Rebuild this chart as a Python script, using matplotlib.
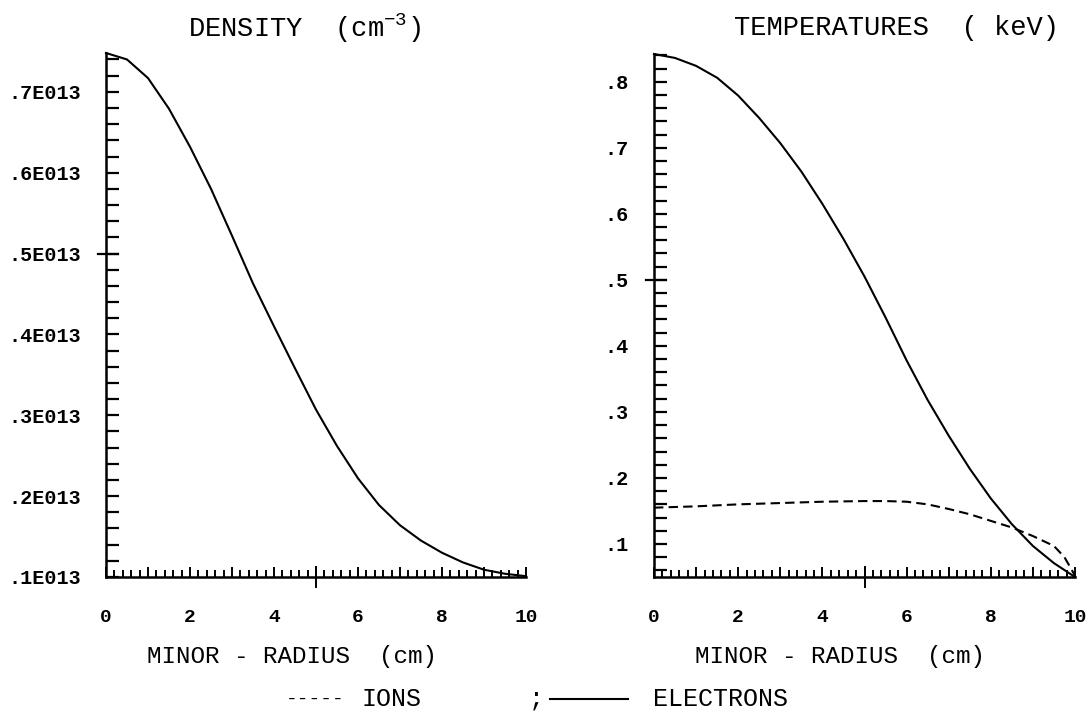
import numpy as np
import matplotlib
matplotlib.use('Agg')
import matplotlib.pyplot as plt
from matplotlib.ticker import MultipleLocator, FuncFormatter
from matplotlib.lines import Line2D

plt.rcParams['font.family'] = ['Liberation Mono', 'DejaVu Sans Mono']
plt.rcParams['mathtext.fontset'] = 'custom'
plt.rcParams['mathtext.rm'] = 'Liberation Mono'
plt.rcParams['mathtext.it'] = 'Liberation Mono'

# radial profiles, minor radius in cm
radius = [0.0, 0.5, 1.0, 1.5, 2.0, 2.5, 3.0, 3.5, 4.0, 4.5, 5.0,
          5.5, 6.0, 6.5, 7.0, 7.5, 8.0, 8.5, 9.0, 9.5, 10.0]
# density in units of 1e12 cm^-3
density_1e12 = [7.48, 7.40, 7.17, 6.79, 6.32, 5.80, 5.22, 4.63, 4.10, 3.58, 3.07,
                2.62, 2.22, 1.89, 1.64, 1.45, 1.30, 1.18, 1.09, 1.04, 1.01]
# electron temperature, keV
te_kev = [0.842, 0.836, 0.824, 0.806, 0.779, 0.745, 0.707, 0.664, 0.615, 0.562, 0.505,
          0.443, 0.378, 0.318, 0.264, 0.214, 0.169, 0.130, 0.097, 0.071, 0.050]
# ion temperature, keV
radius_ion = [0.0, 1.0, 2.0, 3.0, 4.0, 5.0, 5.5, 6.0, 6.5, 7.0, 7.5,
              8.0, 8.5, 9.0, 9.5, 9.75, 10.0]
ti_kev = [0.155, 0.157, 0.160, 0.162, 0.164, 0.165, 0.165, 0.164, 0.160, 0.153, 0.145,
          0.135, 0.125, 0.112, 0.097, 0.080, 0.052]

density = np.array(density_1e12) * 1e12

W, H = 1090, 712
fig = plt.figure(figsize=(W / 100, H / 100), dpi=100)
fig.patch.set_facecolor('white')


def px_box(x0, x1, ytop, ybot):
    return [x0 / W, 1 - ybot / H, (x1 - x0) / W, (ybot - ytop) / H]


def fx(x):
    return x / W


def fy(y):
    return 1 - y / H


ax1 = fig.add_axes(px_box(106, 526, 53, 577))
ax2 = fig.add_axes(px_box(654, 1075, 54, 577))

for ax in (ax1, ax2):
    ax.spines['top'].set_visible(False)
    ax.spines['right'].set_visible(False)
    ax.spines['left'].set_linewidth(1.8)
    ax.spines['bottom'].set_linewidth(1.8)
    ax.set_xlim(0, 10)
    ax.xaxis.set_major_locator(MultipleLocator(1))
    ax.xaxis.set_minor_locator(MultipleLocator(0.2))
    ax.xaxis.set_major_formatter(
        FuncFormatter(lambda v, p: f'{int(round(v))}' if int(round(v)) % 2 == 0 else ''))
    ax.tick_params(axis='x', which='major', direction='in', length=7.2, width=1.4, pad=23,
                   labelsize=14)
    ax.tick_params(axis='x', which='minor', direction='in', length=5, width=1.4)
    ax.tick_params(axis='y', which='both', direction='in', length=9, width=1.6, pad=18,
                   labelsize=14.5)
    # long tick crossing the axis at mid-range
    ax.plot([5, 5], [-0.019, 0.019], transform=ax.get_xaxis_transform(),
            color='black', lw=1.4, clip_on=False)

# density
ax1.plot(radius, density, color='black', lw=1.5, clip_on=False)
ax1.set_ylim(1e12, 7.48e12)
ax1.yaxis.set_major_locator(MultipleLocator(1e12))
ax1.yaxis.set_minor_locator(MultipleLocator(2e11))
ax1.yaxis.set_major_formatter(FuncFormatter(lambda v, p: f'.{int(round(v / 1e12))}E013'))
ax1.plot([-0.019, 0.029], [5e12, 5e12], transform=ax1.get_yaxis_transform(),
         color='black', lw=1.6, clip_on=False)

# temperatures
ax2.plot(radius, te_kev, color='black', lw=1.5, clip_on=False)
ax2.plot(radius_ion, ti_kev, color='black', lw=1.5, ls=(0, (4.5, 2.5)), clip_on=False)
ax2.set_ylim(0.05, 0.842)
ax2.yaxis.set_major_locator(MultipleLocator(0.1))
ax2.yaxis.set_minor_locator(MultipleLocator(0.02))
ax2.yaxis.set_major_formatter(FuncFormatter(lambda v, p: f'{v:.1f}'.lstrip('0')))
ax2.plot([-0.019, 0.029], [0.5, 0.5], transform=ax2.get_yaxis_transform(),
         color='black', lw=1.6, clip_on=False)

for ax in (ax1, ax2):
    for lab in ax.get_xticklabels() + ax.get_yticklabels():
        lab.set_fontweight('bold')

# panel titles
fig.text(fx(188), fy(28), 'DENSITY  (cm$^{-3}$)', fontsize=19.5, ha='left', va='center')
fig.text(fx(734), fy(28), 'TEMPERATURES  ( keV)', fontsize=19.5, ha='left', va='center')

# x axis titles
fig.text(fx(147), fy(656), 'MINOR - RADIUS  (cm)', fontsize=17.5, ha='left', va='center')
fig.text(fx(695), fy(656), 'MINOR - RADIUS  (cm)', fontsize=17.5, ha='left', va='center')

# key below the panels
ky = fy(699)
fig.text(fx(286), ky, '-----', fontsize=14, ha='left', va='center')
fig.text(fx(361), ky, 'IONS', fontsize=18, ha='left', va='center')
fig.text(fx(536), ky, ';', fontsize=18, ha='center', va='center')
fig.add_artist(Line2D([fx(550), fx(628)], [ky, ky], color='black', lw=1.5,
                      transform=fig.transFigure))
fig.text(fx(653), ky, 'ELECTRONS', fontsize=18, ha='left', va='center')

fig.savefig('out.png', dpi=100, facecolor='white')
